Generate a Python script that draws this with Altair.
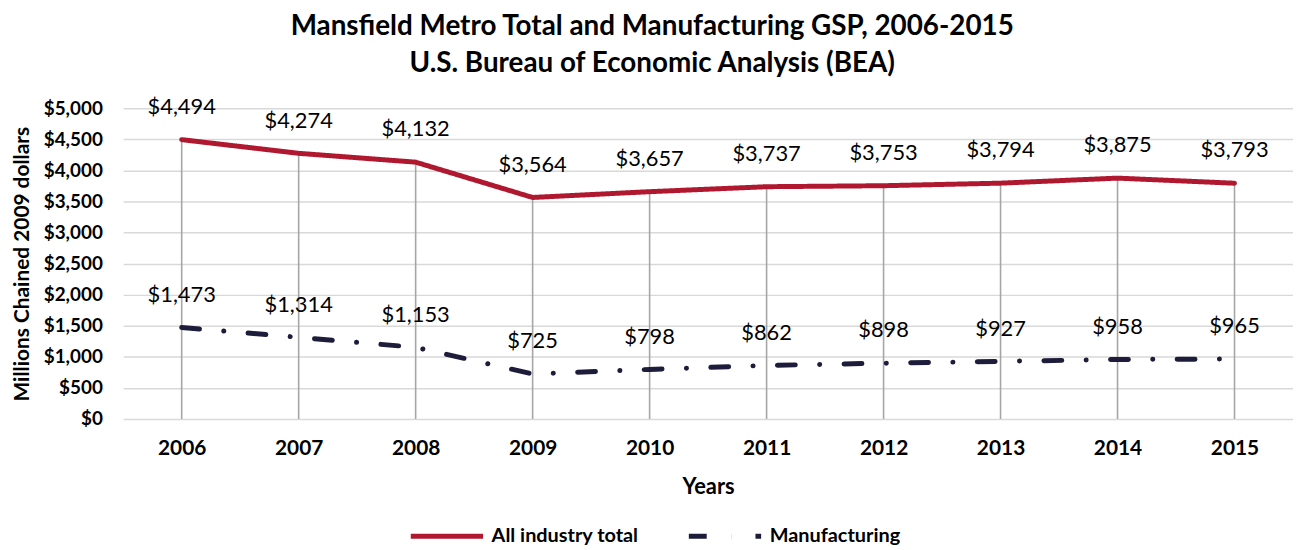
import altair as alt
import pandas as pd

years = ["2006", "2007", "2008", "2009", "2010", "2011", "2012", "2013", "2014", "2015"]
total = [4494, 4274, 4132, 3564, 3657, 3737, 3753, 3794, 3875, 3793]
manufacturing = [1473, 1314, 1153, 725, 798, 862, 898, 927, 958, 965]
series_names = ["All industry total", "Manufacturing"]
colors = ["#B0182F", "#1D1D3B"]
y_ticks = [0, 500, 1000, 1500, 2000, 2500, 3000, 3500, 4000, 4500, 5000]

rows = []
for y, t, m in zip(years, total, manufacturing):
    rows.append({"year": y, "series": series_names[0], "value": t})
    rows.append({"year": y, "series": series_names[1], "value": m})
df = pd.DataFrame(rows)
drop_df = pd.DataFrame({"year": years, "top": total, "zero": [0] * len(years)})

FONT = "Lato"

x_axis = alt.Axis(title="Years", labelAngle=0, labelFontWeight="bold", labelFontSize=21,
                  titleFontSize=22, titleFontWeight="bold", labelPadding=19, titlePadding=18,
                  domain=False, ticks=False, grid=False, labelColor="#000", titleColor="#000")
x_scale = alt.Scale(type="point", padding=0.5)
y_scale = alt.Scale(domain=[0, 5000], nice=False)
y_axis = alt.Axis(title="Millions Chained 2009 dollars", format="$,.0f",
                  values=y_ticks, labelOverlap=False,
                  labelFontWeight="bold", labelFontSize=19, titleFontSize=21, titleFontWeight="bold",
                  labelPadding=21, titlePadding=11, domain=False, ticks=False,
                  gridColor="#D9D9D9", gridWidth=1.5, labelColor="#000", titleColor="#000")

leg = alt.Legend(title=None, orient="none", legendX=287, legendY=392, direction="horizontal",
                 symbolType="stroke", symbolSize=5300, symbolStrokeWidth=5, labelFontSize=20,
                 labelFontWeight="bold", labelColor="#000", columnPadding=40, labelOffset=6,
                 labelFont=FONT)

drops = alt.Chart(drop_df).mark_rule(color="#A6A6A6", strokeWidth=1.6).encode(
    x=alt.X("year:O", scale=x_scale, axis=x_axis),
    y=alt.Y("top:Q", scale=y_scale, axis=y_axis),
    y2="zero:Q",
)

lines = alt.Chart(df).mark_line(strokeWidth=5, strokeCap="round", strokeJoin="round").encode(
    x=alt.X("year:O", scale=x_scale, axis=x_axis),
    y=alt.Y("value:Q", scale=y_scale, axis=y_axis),
    color=alt.Color("series:N", scale=alt.Scale(domain=series_names, range=colors), legend=leg),
    strokeDash=alt.StrokeDash("series:N", scale=alt.Scale(domain=series_names,
                                                          range=[[1, 0], [18, 24.5, 0.1, 24.5]]),
                              legend=leg),
)

labels = alt.Chart(df).mark_text(dy=-33, fontSize=22, color="#000", font=FONT).encode(
    x=alt.X("year:O", scale=x_scale, axis=x_axis),
    y=alt.Y("value:Q", scale=y_scale, axis=y_axis),
    text=alt.Text("value:Q", format="$,.0f"),
)

chart = alt.layer(drops, lines, labels).properties(
    width=1178, height=313, padding={"left": 3, "top": 3, "right": 0, "bottom": 0},
    title=alt.TitleParams(["Mansfield Metro Total and Manufacturing GSP, 2006-2015",
                           "U.S. Bureau of Economic Analysis (BEA)"],
                          fontSize=28, fontWeight="bold", font=FONT, color="#000", lineHeight=37,
                          anchor="middle", frame="bounds", offset=18),
).configure(font=FONT).configure_view(stroke=None)

chart.save("out.html", embed_options={"renderer": "svg", "actions": False})
